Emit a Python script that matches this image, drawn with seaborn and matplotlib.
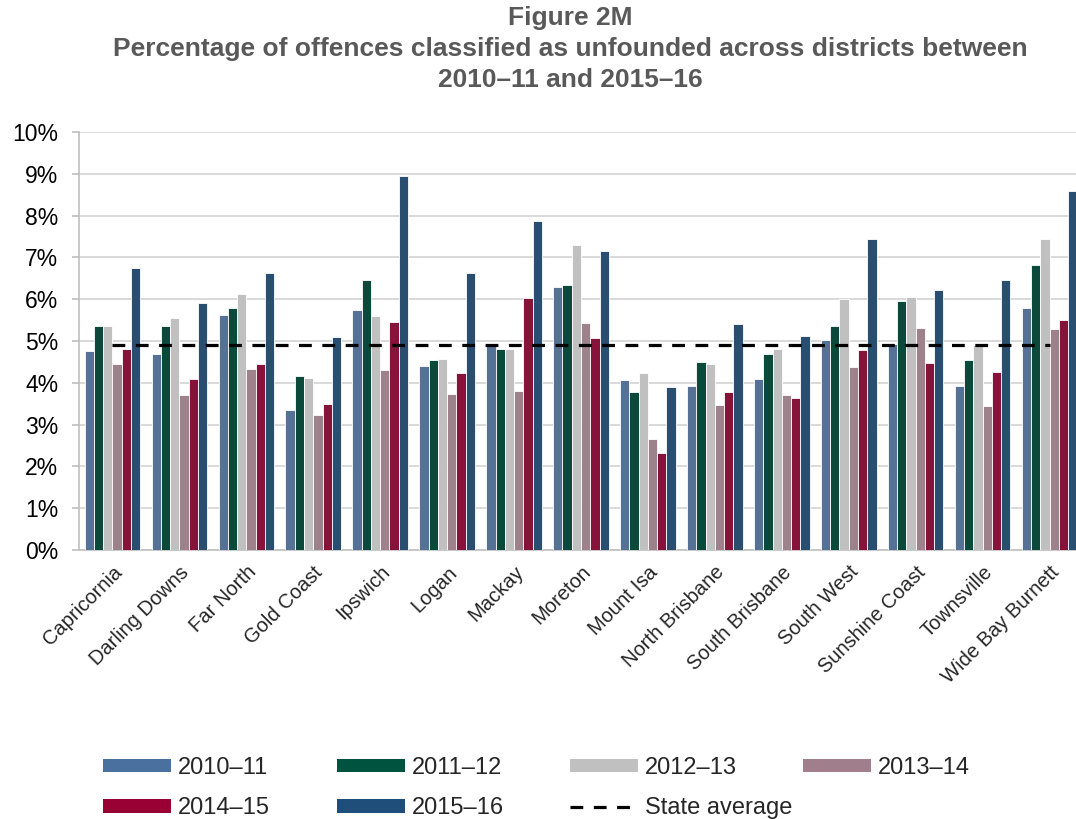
import matplotlib
matplotlib.use("Agg")
import matplotlib.pyplot as plt
from matplotlib.patches import Patch
from matplotlib.lines import Line2D
from matplotlib.ticker import FuncFormatter
import pandas as pd
import seaborn as sns

districts = ["Capricornia", "Darling Downs", "Far North", "Gold Coast", "Ipswich",
             "Logan", "Mackay", "Moreton", "Mount Isa", "North Brisbane",
             "South Brisbane", "South West", "Sunshine Coast", "Townsville",
             "Wide Bay Burnett"]
years = ["2010–11", "2011–12", "2012–13", "2013–14", "2014–15", "2015–16"]

y2010_11 = [4.75, 4.68, 5.62, 3.35, 5.73, 4.40, 4.93, 6.28, 4.07, 3.93, 4.10, 5.03, 4.93, 3.93, 5.80]
y2011_12 = [5.35, 5.35, 5.78, 4.17, 6.47, 4.55, 4.82, 6.33, 3.78, 4.50, 4.70, 5.35, 5.95, 4.55, 6.83]
y2012_13 = [5.37, 5.55, 6.12, 4.12, 5.60, 4.57, 4.82, 7.30, 4.23, 4.45, 4.80, 6.00, 6.05, 4.90, 7.45]
y2013_14 = [4.45, 3.72, 4.33, 3.22, 4.30, 3.73, 3.80, 5.42, 2.65, 3.47, 3.72, 4.37, 5.30, 3.45, 5.28]
y2014_15 = [4.82, 4.10, 4.45, 3.50, 5.45, 4.23, 6.02, 5.08, 2.33, 3.77, 3.63, 4.78, 4.48, 4.27, 5.50]
y2015_16 = [6.75, 5.90, 6.63, 5.10, 8.95, 6.63, 7.87, 7.15, 3.90, 5.40, 5.13, 7.43, 6.23, 6.47, 8.60]
state_average = 4.9

colors = ["#4A70A0", "#00543F", "#C0C0C0", "#A17E8B", "#990033", "#1F4E7A"]

series = [y2010_11, y2011_12, y2012_13, y2013_14, y2014_15, y2015_16]
df = pd.DataFrame({
    "district": [d for s in series for d in districts],
    "year": [y for y, s in zip(years, series) for _ in s],
    "value": [v for s in series for v in s],
})

sns.set_style("white")
plt.rcParams["font.family"] = ["Liberation Sans", "DejaVu Sans"]

fig = plt.figure(figsize=(10.76, 8.19), dpi=100)
ax = fig.add_axes([79 / 1076, 1 - 550 / 819, 1004 / 1076, 418 / 819])

sns.barplot(data=df, x="district", y="value", hue="year", order=districts,
            hue_order=years, palette=colors, width=0.83, edgecolor="white",
            linewidth=0.6, legend=False, ax=ax, zorder=3)

avg_style = dict(color="black", lw=2.3, linestyle=(0, (4.0, 3.3)))
ax.plot(range(len(districts)), [state_average] * len(districts), zorder=4, **avg_style)

ax.set_ylim(0, 10)
ax.set_xlim(-0.5, len(districts) - 0.5)
ax.set_yticks(range(0, 11))
ax.yaxis.set_major_formatter(FuncFormatter(lambda v, _: f"{int(v)}%"))
ax.grid(axis="y", color="#D9D9D9", lw=1.4, zorder=0)
ax.set_axisbelow(True)
for side in ["top", "right"]:
    ax.spines[side].set_visible(False)
for side in ["left", "bottom"]:
    ax.spines[side].set_color("#BFBFBF")
    ax.spines[side].set_linewidth(1.2)
ax.tick_params(axis="y", length=5, color="#BFBFBF", width=1.2, labelsize=16.5,
               pad=10, labelcolor="black", left=True)
ax.tick_params(axis="x", length=0, labelsize=14.5, pad=9)
ax.set_xlabel("")
ax.set_ylabel("")
plt.setp(ax.get_xticklabels(), rotation=45, ha="right", rotation_mode="anchor")

fig.text(0.53, 1 - 6 / 819,
         "Figure 2M\nPercentage of offences classified as unfounded across districts between\n2010–11 and 2015–16",
         ha="center", va="top", fontsize=19, fontweight="bold",
         color="#595959", linespacing=1.36)

# Legend laid out as four fixed-width columns, two rows
bar_handles = [Patch(facecolor=c, edgecolor="none") for c in colors]
avg_handle = Line2D([0], [0], **avg_style)
columns = [
    ([bar_handles[0], bar_handles[4]], [years[0], years[4]]),
    ([bar_handles[1], bar_handles[5]], [years[1], years[5]]),
    ([bar_handles[2], avg_handle], [years[2], "State average"]),
    ([bar_handles[3]], [years[3]]),
]
col_x = [103, 337, 570, 803]
for (hs, ls), x in zip(columns, col_x):
    fig.legend(hs, ls, loc="upper left", bbox_to_anchor=(x / 1076, 1 - 757 / 819),
               frameon=False, fontsize=17, handlelength=2.88, handleheight=0.51,
               handletextpad=0.3, labelspacing=0.78, borderpad=0, borderaxespad=0)

fig.savefig("out.png", dpi=100)
